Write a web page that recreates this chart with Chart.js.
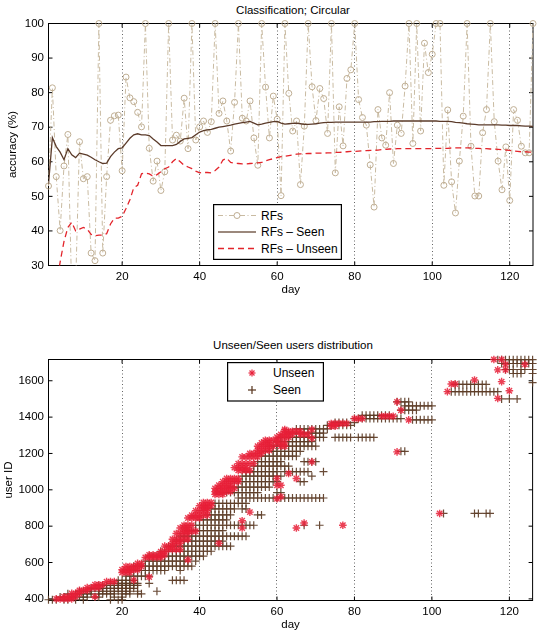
<!DOCTYPE html>
<html>
<head>
<meta charset="utf-8">
<script src="https://cdn.jsdelivr.net/npm/chart.js@4.4.1/dist/chart.umd.min.js"></script>
<style>
  html, body { margin: 0; padding: 0; background: #fff; }
  body { width: 538px; height: 633px; position: relative; overflow: hidden; font-family: 'Liberation Sans', Arial, Helvetica, sans-serif; }
  .wrap { position: absolute; left: 0; width: 538px; }
  .title { position: absolute; left: 48.5px; width: 489px; text-align: center; font-size: 11.5px; line-height: 14px; color: #000; white-space: nowrap; }
  svg.leg { position: absolute; overflow: visible; }
  svg.leg text { font-family: 'Liberation Sans', Arial, Helvetica, sans-serif; font-size: 12px; fill: #000; }
</style>
</head>
<body>
<div class="title" style="top:3px;">Classification; Circular</div>
<div class="wrap" style="top:0; height:300px;"><canvas id="c1"></canvas></div>
<div class="title" style="top:338px;">Unseen/Seen users distribution</div>
<div class="wrap" style="top:330px; height:303px;"><canvas id="c2"></canvas></div>

<svg class="leg" style="left:213px; top:204px;" width="129" height="56">
  <rect x="0.6" y="0.6" width="127.8" height="54.8" fill="#fff" stroke="#000" stroke-width="1.2"/>
  <line x1="5" y1="11.5" x2="43" y2="11.5" stroke="#c9bba2" stroke-width="1" stroke-dasharray="5 2.5 1 2.5"/>
  <circle cx="24" cy="11.5" r="3" fill="#fff" stroke="#bfae93" stroke-width="1"/>
  <text x="48" y="15.5">RFs</text>
  <line x1="5" y1="28" x2="43" y2="28" stroke="#7a6050" stroke-width="1.4"/>
  <text x="48" y="32">RFs – Seen</text>
  <line x1="5" y1="44.5" x2="43" y2="44.5" stroke="#e3242b" stroke-width="1.3" stroke-dasharray="6 4"/>
  <text x="48" y="48.5">RFs – Unseen</text>
</svg>

<svg class="leg" style="left:227px; top:362px;" width="97" height="40">
  <rect x="0.6" y="0.6" width="95.8" height="38.4" fill="#fff" stroke="#000" stroke-width="1.2"/>
  <g stroke="rgba(232,30,55,0.9)" stroke-width="1.3">
    <line x1="21.5" y1="11" x2="28.5" y2="11"/>
    <line x1="25" y1="7.5" x2="25" y2="14.5"/>
    <line x1="22.5" y1="8.5" x2="27.5" y2="13.5"/>
    <line x1="27.5" y1="8.5" x2="22.5" y2="13.5"/>
  </g>
  <text x="46" y="15">Unseen</text>
  <g stroke="rgba(88,55,32,0.95)" stroke-width="1.3">
    <line x1="21" y1="28" x2="29" y2="28"/>
    <line x1="25" y1="24" x2="25" y2="32"/>
  </g>
  <text x="46" y="32">Seen</text>
</svg>

<script>
// ---------------- data: top chart (accuracy per day, day = index + 1) ----------------
const rfsAcc = [
  53.0, 81.4, 55.7, 40.1, 58.8, 67.9, 22.0, 24.0, 65.8, 55.1,
  55.7, 33.6, 31.4, 100, 33.6, 55.7, 72.0, 73.3, 73.5, 57.4,
  84.5, 78.5, 77.4, 74.3, 70.1, 100, 63.9, 54.4, 60.2, 51.7,
  57.1, 100, 66.3, 67.7, 66.0, 78.4, 63.8, 100, 66.3, 70.1,
  71.8, 68.5, 71.6, 100, 74.0, 77.6, 71.8, 63.1, 77.2, 100,
  72.6, 71.8, 77.6, 66.9, 59.0, 100, 81.6, 66.9, 79.0, 72.3,
  50.2, 100, 79.8, 68.9, 71.8, 53.4, 70.3, 100, 81.7, 71.9,
  81.2, 78.3, 68.2, 100, 56.8, 75.9, 64.6, 84.1, 86.6, 100,
  78.0, 72.8, 70.6, 59.1, 46.9, 75.1, 66.9, 64.8, 80.0, 59.5,
  70.6, 68.2, 81.9, 100, 65.3, 100, 68.9, 94.3, 85.8, 91.1,
  100, 100, 53.2, 75.0, 54.2, 45.2, 60.2, 73.2, 100, 64.5,
  50.1, 50.1, 68.4, 75.1, 100, 71.6, 60.2, 51.9, 64.3, 48.8,
  75.1, 72.0, 64.5, 62.6, 62.6, 100
];
const seenAcc = [
  53.5, 67.0, 64.4, 62.8, 60.6, 63.8, 62.0, 61.2, 62.5, 62.2,
  61.9, 61.3, 60.6, 60.0, 59.5, 59.6, 61.5, 62.8, 63.8, 64.0,
  65.4, 66.8, 67.8, 68.1, 67.8, 67.8, 67.6, 66.6, 65.7, 64.7,
  64.7, 64.7, 64.7, 65.0, 65.9, 66.6, 66.8, 67.0, 67.8, 68.6,
  69.0, 69.2, 69.4, 69.7, 70.0, 70.2, 70.4, 70.6, 70.9, 71.1,
  71.3, 71.5, 71.7, 71.2, 70.7, 70.9, 71.2, 71.4, 71.6, 71.7,
  71.2, 70.9, 71.0, 71.1, 71.2, 71.0, 70.8, 70.8, 70.9, 71.0,
  71.2, 71.3, 71.4, 71.4, 71.5, 71.5, 71.5, 71.5, 71.5, 71.5,
  71.5, 71.5, 71.5, 71.5, 71.6, 71.6, 71.7, 71.7, 71.7, 71.8,
  71.8, 71.8, 71.8, 71.8, 71.8, 71.8, 71.8, 71.8, 71.8, 71.8,
  71.8, 71.7, 71.7, 71.7, 71.6, 71.4, 71.3, 71.2, 71.0, 70.9,
  70.8, 70.7, 70.7, 70.7, 70.7, 70.7, 70.7, 70.6, 70.6, 70.5,
  70.5, 70.5, 70.4, 70.3, 70.3, 70.2
];
const unseenAcc = [
  null, null, 24.0, 31.0, 37.0, 41.0, 42.5, 40.0, 40.5, 41.0,
  40.5, 39.0, 38.6, 38.8, 38.8, 39.2, 42.0, 43.7, 43.7, 44.2,
  46.5, 49.0, 52.5, 53.2, 56.5, 56.8, 56.5, 55.8, 56.3, 57.1,
  58.0, 58.5, 60.0, 61.0, 60.0, 59.0, 58.5, 58.0, 57.3, 56.8,
  56.9, 56.9, 56.8, 57.5, 58.5, 60.5, 61.0, 59.8, 59.6, 59.5,
  59.4, 59.4, 59.5, 59.6, 59.7, 59.8, 60.3, 60.6, 60.9, 61.2,
  61.5, 61.6, 61.8, 62.0, 62.2, 62.3, 62.3, 62.4, 62.4, 62.5,
  62.5, 62.5, 62.6, 62.6, 62.7, 62.7, 62.8, 62.9, 63.0, 63.0,
  63.1, 63.2, 63.2, 63.3, 63.3, 63.4, 63.5, 63.6, 63.7, 63.7,
  63.8, 63.8, 63.8, 63.8, 63.8, 63.8, 63.8, 63.8, 63.8, 63.8,
  63.9, 63.9, 63.9, 63.9, 64.0, 64.0, 64.0, 64.0, 64.0, 64.0,
  63.9, 63.9, 63.8, 63.8, 63.7, 63.7, 63.6, 63.5, 63.4, 63.3,
  63.1, 63.0, 62.9, 62.9, 62.8, 62.8
];
const accTicks = [30, 40, 50, 60, 70, 80, 90, 100];
const dayTicks = [20, 40, 60, 80, 100, 120];
const userTicks = [400, 600, 800, 1000, 1200, 1400, 1600];

// ---------------- data: bottom chart, [user ID, [days]] ----------------
const seenRows = [
  [395, [1,2,3,5,6,8,10,17,19,20]],
  [410, [4,5,6,7,9,10,11,13,14,18,20]],
  [428, [6,8,9,10,11,12,14,15,16,17,18,20,21,22,24,25]],
  [442, [9,10,11,12,14,15,16,17,18,19,20,21,22,24,29]],
  [458, [12,13,14,15,16,17,18,19,20,21,22,23]],
  [474, [14,15,16,17,18,19,20,21,22,23,24]],
  [485, [17,18,19,20,21,22,23,24,27]],
  [502, [19,20,21,22,23,33,34,35,36]],
  [525, [21,22,23,24,25,26,27]],
  [556, [22,23,24,25,26,27,28,29,30,31,35]],
  [580, [23,24,25,26,27,28,29,30,31,32,33,34,35,36,37,38]],
  [608, [26,27,28,29,30,31,32,33,34,35,36,37,39]],
  [635, [27,28,29,30,31,32,33,34,35,36,37,38,39,40,41]],
  [662, [30,31,32,33,34,35,36,37,38,39,40,41,42,43]],
  [690, [32,33,34,35,36,37,38,39,40,41,42,43,44,45,46,47,48]],
  [718, [34,35,36,37,38,39,40,41,42,43,44,45,46]],
  [745, [35,36,37,38,39,40,41,42,43,44,45,46,47,48,49,50,51,52]],
  [775, [37,38,39,40,41,42,43,44,45,46]],
  [805, [39,40,41,42,43,44,45,46,47,48,49,50,51,52,53,54,67,71]],
  [835, [40,41,42,43,44,45,46,47]],
  [862, [42,43,44,45,46,47,48,55,56]],
  [870, [103,111,112,114,115]],
  [895, [43,44,45,46,47,48,49,51,52]],
  [925, [44,45,46,47,48,49,50,51,52]],
  [955, [50,51,52,53,54,55,56,57,58,59,60,61,62,63,64,65,66,67,68,69,70,71,72]],
  [985, [46,47,48,49,50,51,52,53,54,55,60,61]],
  [1015, [48,49,50,51,52,53,54,55,56,57,58]],
  [1045, [49,50,51,52,53,54,55,56,57,58,59,60,66,67]],
  [1075, [51,52,53,54,55,56,57,58,59,60,61,69]],
  [1100, [52,53,54,55,56,57,58,59,60,62,63,64,65,66,67,68,72]],
  [1130, [54,55,56,57,58,59,60,61,62,63]],
  [1155, [55,56,57,58,59,60,61,67,68,69,70]],
  [1185, [56,57,58,59,60,61,62,63,64,65]],
  [1212, [57,58,59,60,61,62,63,64,65,66,92,93]],
  [1240, [58,59,60,61,62,63,64,65,66,67,68,69,70]],
  [1265, [60,61,62,63,64,65,66,67,68,69]],
  [1288, [61,62,63,64,65,66,67,68,69,70,71,72,75,76,77,78,79,81,82,83,84,85]],
  [1312, [63,64,65,66,67,68,69,70,71,72]],
  [1335, [65,66,67,68,69,70,71,72,73]],
  [1355, [73,74,75,76,77,78,79]],
  [1370, [75,76,77,78,80]],
  [1392, [80,81,82,83,84,85,86,87,88,89,90,91,92]],
  [1410, [82,83,84,85,86,87,88,89]],
  [1385, [95,96,97,98,99,100]],
  [1438, [92,93,94,95,96]],
  [1462, [93,94,95,96,97,98,99,100]],
  [1484, [91,92,93,94]],
  [1500, [118,120,122]],
  [1540, [105,106,107,108,109,110,111,112,113,114,115,116,117]],
  [1580, [106,107,108,109,110,111,112,113,114]],
  [1590, [126]],
  [1640, [121,122,123,126]],
  [1662, [119,120,121,123,124,126]],
  [1695, [118,119,120,121,122,123,124,125,126]],
  [1716, [117,118,119,120,121,122,123,124,125,126]]
];
const unseenRows = [
  [400, [3,4,5,6,7]],
  [412, [5,6,7,8,13]],
  [430, [7,8,9]],
  [447, [9,10,11]],
  [462, [11,12,13,14]],
  [478, [13,14,15]],
  [495, [16,17,18]],
  [503, [23]],
  [520, [27]],
  [545, [20,21,22]],
  [560, [20,21,22,23,24]],
  [578, [21,22,23,24,25]],
  [595, [24,25]],
  [615, [37]],
  [628, [26,27,28,29,30]],
  [642, [27,28,29,30,31]],
  [660, [30,31]],
  [672, [32,33,34,35]],
  [690, [31,32,33]],
  [706, [33,34,35,45]],
  [728, [33,34,35,36,37]],
  [760, [34,35,36,37]],
  [772, [36,37,38,39]],
  [790, [35,36,37,51,65]],
  [805, [36,37,38,77]],
  [817, [67]],
  [830, [51]],
  [845, [37,38,39,40]],
  [860, [38,39,40,41,42]],
  [870, [102]],
  [877, [53]],
  [885, [39,40,41,42]],
  [900, [41,42]],
  [912, [40,41,42,43]],
  [930, [41,42,43]],
  [951, [60]],
  [962, [61]],
  [975, [44,45,46]],
  [990, [44,45,46,47,48]],
  [1008, [44,45,46,47,48,49]],
  [1025, [45,46,47,48,60,61]],
  [1045, [46,47,48,49,50]],
  [1062, [47,48,49,50,60,65]],
  [1090, [63]],
  [1107, [50,51,52,53]],
  [1122, [49,50,51,52]],
  [1144, [50,51,52,53,54]],
  [1154, [69]],
  [1181, [51,52,53,54,55]],
  [1200, [53,54,55,56]],
  [1209, [91]],
  [1218, [55,56,57,58]],
  [1240, [55,56,57,58,59,61,62]],
  [1258, [56,57,58,60,61,62]],
  [1273, [57,58,59,60]],
  [1284, [69]],
  [1290, [60,61,62,63]],
  [1305, [61,62,63,64,66,67,68]],
  [1322, [62,63,64,65,66]],
  [1332, [62,69]],
  [1350, [74,75]],
  [1365, [74,75,76,77,78]],
  [1385, [94]],
  [1392, [80,81,82]],
  [1405, [87,88,89,90]],
  [1438, [92]],
  [1484, [91]],
  [1503, [117]],
  [1540, [104]],
  [1545, [120]],
  [1582, [105,106]],
  [1595, [118]],
  [1604, [111]],
  [1660, [117,119]],
  [1690, [119,124]],
  [1717, [116,118]]
];

// ---------------- helpers ----------------
const FONT = "'Liberation Sans', Arial, Helvetica, sans-serif";
function seriesPoints(vals) { return vals.map((v, i) => ({ x: i + 1, y: v })); }
function rowPoints(rows) {
  const pts = [];
  rows.forEach(([id, ds]) => ds.forEach(d => pts.push({ x: d, y: id })));
  return pts;
}

const framePlugin = {
  id: 'frame',
  beforeDatasetsDraw(chart) {
    const { ctx, chartArea: a, scales: { x, y } } = chart;
    ctx.save();
    ctx.strokeStyle = '#000';
    ctx.lineWidth = 1;
    ctx.strokeRect(a.left, a.top, a.right - a.left, a.bottom - a.top);
    const tl = 4;
    ctx.beginPath();
    x.ticks.forEach(t => {
      const px = x.getPixelForValue(t.value);
      ctx.moveTo(px, a.bottom); ctx.lineTo(px, a.bottom - tl);
      ctx.moveTo(px, a.top); ctx.lineTo(px, a.top + tl);
    });
    y.ticks.forEach(t => {
      const py = y.getPixelForValue(t.value);
      ctx.moveTo(a.left, py); ctx.lineTo(a.left + tl, py);
      ctx.moveTo(a.right, py); ctx.lineTo(a.right - tl, py);
    });
    ctx.stroke();
    ctx.restore();
  }
};

function xAxis(xHeight, titlePad) {
  return {
    type: 'linear', min: 1, max: 126,
    afterBuildTicks: s => { s.ticks = dayTicks.map(v => ({ value: v })); },
    afterFit: s => { s.height = xHeight; },
    ticks: { color: '#000', font: { family: FONT, size: 11.5 }, padding: 4, autoSkip: false, maxRotation: 0, callback: v => String(v) },
    grid: { display: true, drawOnChartArea: true, drawTicks: false, color: '#666', lineWidth: 1 },
    border: { display: false, dash: [1, 2.5] },
    title: { display: true, text: 'day', color: '#000', font: { family: FONT, size: 11.5 }, padding: { top: 0, bottom: titlePad } }
  };
}
function yAxis(min, max, tickVals, label, titlePad) {
  return {
    type: 'linear', min: min, max: max,
    afterBuildTicks: s => { s.ticks = tickVals.map(v => ({ value: v })); },
    afterFit: s => { s.width = 48.5; },
    ticks: { color: '#000', font: { family: FONT, size: 11.5 }, padding: 4.5, autoSkip: false, callback: v => String(v) },
    grid: { display: false, drawTicks: false },
    border: { display: false },
    title: { display: true, text: label, color: '#000', font: { family: FONT, size: 11.5 }, padding: { top: titlePad, bottom: 0 } }
  };
}

// ---------------- top chart ----------------
new Chart(document.getElementById('c1'), {
  type: 'line',
  data: {
    datasets: [
      {
        label: 'RFs', data: seriesPoints(rfsAcc), order: 3,
        borderColor: '#c9bba2', borderWidth: 1, borderDash: [5, 2.5, 1, 2.5],
        pointStyle: 'circle', pointRadius: 3, pointBorderColor: '#bfae93', pointBorderWidth: 1,
        pointBackgroundColor: 'rgba(255,255,255,0)', tension: 0,
        clip: { left: false, top: false, right: false, bottom: 0 }
      },
      {
        label: 'RFs – Seen', data: seriesPoints(seenAcc), order: 1,
        borderColor: '#5b3b2a', borderWidth: 1.3, pointRadius: 0, tension: 0
      },
      {
        label: 'RFs – Unseen', data: seriesPoints(unseenAcc), order: 2,
        borderColor: '#e3242b', borderWidth: 1.3, borderDash: [6, 4], pointRadius: 0, tension: 0,
        spanGaps: false, clip: { left: false, top: false, right: false, bottom: 0 }
      }
    ]
  },
  options: {
    responsive: true, maintainAspectRatio: false, animation: false, devicePixelRatio: 1,
    layout: { padding: { top: 23.5, right: 0.5, left: 0, bottom: 0 } },
    plugins: { legend: { display: false }, tooltip: { enabled: false }, title: { display: false } },
    scales: { x: xAxis(34.5, 3.1), y: yAxis(30, 100, accTicks, 'accuracy (%)', 6) }
  },
  plugins: [framePlugin]
});

// ---------------- bottom chart ----------------
new Chart(document.getElementById('c2'), {
  type: 'scatter',
  data: {
    datasets: [
      {
        label: 'Unseen', data: rowPoints(unseenRows),
        pointStyle: 'star', pointRadius: 3.8, pointBorderColor: 'rgba(232,30,55,0.85)', pointBorderWidth: 1.4,
        pointBackgroundColor: 'rgba(232,30,55,0.85)', showLine: false, clip: false
      },
      {
        label: 'Seen', data: rowPoints(seenRows),
        pointStyle: 'cross', pointRadius: 4, pointBorderColor: 'rgba(92,60,38,0.92)', pointBorderWidth: 1.2,
        pointBackgroundColor: 'rgba(92,60,38,0.92)', showLine: false, clip: false
      }
    ]
  },
  options: {
    responsive: true, maintainAspectRatio: false, animation: false, devicePixelRatio: 1,
    layout: { padding: { top: 29.5, right: 0.5, left: 0, bottom: 0 } },
    plugins: { legend: { display: false }, tooltip: { enabled: false }, title: { display: false } },
    scales: { x: xAxis(32.5, 1.1), y: yAxis(391, 1717, userTicks, 'user ID', 1.6) }
  },
  plugins: [framePlugin]
});
</script>
</body>
</html>
